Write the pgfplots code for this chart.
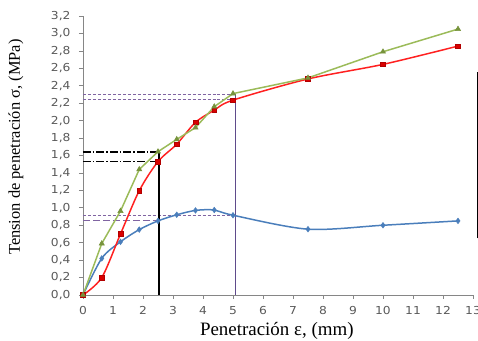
\documentclass[border=0pt]{standalone}
\usepackage{fontspec}
\setmainfont{Liberation Serif}
\newfontfamily\tickfont{DejaVu Sans}[FakeStretch=1.12]
\usepackage{pgfplots}
\pgfplotsset{compat=1.18}
\definecolor{cblue}{HTML}{4A7EBB}
\definecolor{cred}{HTML}{FF2020}
\definecolor{cgreen}{HTML}{9BBB59}
\definecolor{cgreenm}{HTML}{77933C}
\definecolor{cpurple}{HTML}{8064A2}
\definecolor{cpurpled}{HTML}{5F4B8B}
\definecolor{tickgray}{HTML}{595959}
\definecolor{axgray}{HTML}{868686}
\begin{document}
\begin{tikzpicture}
\begin{axis}[
  at={(0,0)}, anchor=south west,
  scale only axis, width=390bp, height=279bp,
  xmin=0, xmax=13, ymin=0, ymax=3.2,
  xtick distance=1, ytick distance=0.2,
  axis x line*=bottom, axis y line*=left,
  axis line style={-, axgray, line width=0.7pt},
  tick style={axgray, line width=0.7pt},
  tick align=outside, major tick length=4bp,
  /pgf/number format/assume math mode=true,
  tick label style={font=\tickfont\fontsize{11}{13}\selectfont, text=tickgray},
  yticklabel style={xshift=-5bp, /pgf/number format/.cd, fixed, fixed zerofill, precision=1, use comma},
  xticklabel style={yshift=-4bp, /pgf/number format/.cd, fixed, precision=0},
  ylabel={Tension de penetración σ, (MPa)},
  ylabel style={at={(axis description cs:-0.172,0.53)}, anchor=center, font=\fontsize{16.5}{18}\selectfont},
  xlabel={Penetración ε, (mm)},
  xlabel style={at={(axis description cs:0.497,-0.128)}, anchor=center, font=\fontsize{19}{21}\selectfont},
  clip=false,
]
% reference lines
\addplot[cpurple, line width=1.1pt, dash pattern=on 3pt off 2pt] coordinates {(0,2.30) (5.08,2.30)};
\addplot[cpurple, line width=1.1pt, dash pattern=on 3pt off 2pt] coordinates {(0,2.24) (5.08,2.24)};
\addplot[cpurpled, line width=1.1pt] coordinates {(5.08,0) (5.08,2.30)};
\addplot[cpurple, line width=1.1pt, dash pattern=on 3pt off 2pt] coordinates {(0,0.91) (5.08,0.91)};
\addplot[cpurple, line width=1.1pt, dash pattern=on 7pt off 3pt] coordinates {(0,0.85) (2.54,0.85)};
\addplot[black, line width=1.1pt, dash pattern=on 8pt off 2pt on 1.5pt off 2pt] coordinates {(0,1.64) (2.54,1.64)};
\addplot[black, line width=1.1pt, dash pattern=on 8pt off 2pt on 1.5pt off 2pt] coordinates {(0,1.53) (2.54,1.53)};
\addplot[black, line width=1.5pt] coordinates {(2.54,0) (2.54,1.64)};
% blue
\addplot[cblue, line width=1.5pt, smooth, mark=diamond*, mark size=2.8pt, mark options={solid, fill=cblue, line width=0.5pt}] coordinates {
(0,0) (0.625,0.42) (1.25,0.61) (1.875,0.75) (2.5,0.85) (3.125,0.92) (3.75,0.97) (4.375,0.975) (5,0.915) (7.5,0.755) (10,0.80) (12.5,0.85)};
% red
\addplot[cred, line width=1.5pt, smooth, mark=square*, mark size=2.3pt, mark options={solid, fill=red!85!black, draw=red!70!black, line width=0.5pt}] coordinates {
(0,0) (0.625,0.20) (1.25,0.70) (1.875,1.196) (2.5,1.53) (3.125,1.73) (3.75,1.98) (4.375,2.12) (5,2.235) (7.5,2.478) (10,2.645) (12.5,2.855)};
% green
\addplot[cgreen, line width=1.5pt, mark=triangle*, mark size=3pt, mark options={solid, fill=cgreenm, draw=cgreenm, line width=0.5pt}] coordinates {
(0,0) (0.625,0.59) (1.25,0.963) (1.875,1.44) (2.5,1.644) (3.125,1.785) (3.75,1.92) (4.375,2.16) (5,2.31) (7.5,2.49) (10,2.79) (12.5,3.05)};
% edge line (clipped legend border in the reference)
\draw[black, line width=1.5pt] (axis cs:13.15,0.65) -- (axis cs:13.15,2.56);
\end{axis}
\pgfresetboundingbox
\path[use as bounding box] (-83bp,-46bp) rectangle (395bp,295bp);
\end{tikzpicture}
\end{document}
